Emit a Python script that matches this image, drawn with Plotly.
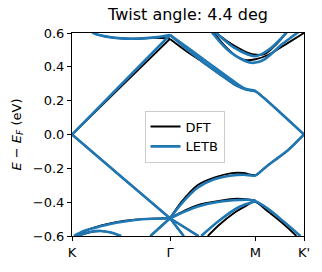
import plotly.graph_objects as go

# High-symmetry points (path coordinate)
K_PT, G_PT, M_PT, KP_PT = 0.0, 1.0, 1.872, 2.367
tick_labels = ["K", "Γ", "M", "K'"]
y_ticks = [-0.6, -0.4, -0.2, 0.0, 0.2, 0.4, 0.6]
y_tick_text = ["−0.6", "−0.4", "−0.2", "0.0", "0.2", "0.4", "0.6"]

# ---------------- DFT bands (black) ----------------
dft_up_kg_k = [0.0, 0.5, 1.0]
dft_up_kg_e = [0.0, 0.283, 0.565]
dft_up_gk_k = [1.0, 1.15, 1.34, 1.5, 1.675, 1.78, 1.872, 1.95, 2.367]
dft_up_gk_e = [0.565, 0.50, 0.425, 0.36, 0.29, 0.266, 0.255, 0.22, 0.0]
dft_u2_k = [0.12, 0.22, 0.4, 0.62, 0.85, 1.0]
dft_u2_e = [0.66, 0.60, 0.574, 0.566, 0.572, 0.568]
dft_u3_k = [1.45, 1.6, 1.75, 1.86, 1.97, 2.08, 2.2]
dft_u3_e = [0.61, 0.545, 0.495, 0.473, 0.476, 0.53, 0.61]
dft_u4_k = [1.42, 1.55, 1.67, 1.75, 1.872, 2.0, 2.2, 2.367]
dft_u4_e = [0.62, 0.53, 0.465, 0.442, 0.445, 0.47, 0.54, 0.6]
dft_dn_kg_k = [0.0, 0.5, 1.0]
dft_dn_kg_e = [0.0, -0.248, -0.495]
dft_l1_k = [1.0, 1.115, 1.28, 1.45, 1.63, 1.75, 1.872, 1.95, 2.05, 2.2, 2.367]
dft_l1_e = [-0.495, -0.40, -0.30, -0.255, -0.228, -0.228, -0.24, -0.205, -0.16, -0.095, 0.0]
dft_l2_k = [1.0, 1.15, 1.284, 1.5, 1.68, 1.81, 1.872]
dft_l2_e = [-0.495, -0.45, -0.417, -0.393, -0.38, -0.385, -0.39]
dft_l3_k = [1.386, 1.5, 1.65, 1.78, 1.862, 2.0, 2.15, 2.29]
dft_l3_e = [-0.6, -0.535, -0.465, -0.42, -0.397, -0.455, -0.525, -0.6]
dft_arca_k = [0.05, 0.15, 0.3, 0.45, 0.64, 0.82, 1.0]
dft_arca_e = [-0.6, -0.566, -0.538, -0.518, -0.503, -0.497, -0.495]
dft_arcb_k = [0.06, 0.18, 0.295, 0.4, 0.5]
dft_arcb_e = [-0.6, -0.578, -0.571, -0.58, -0.6]
dft_dl_k = [0.8, 1.0]
dft_dl_e = [-0.6, -0.495]
dft_dr1_k = [1.0, 1.14]
dft_dr1_e = [-0.495, -0.6]
dft_dr2_k = [1.0, 1.29]
dft_dr2_e = [-0.495, -0.6]

# ---------------- LETB bands (blue) ----------------
letb_up_kg_k = [0.0, 0.5, 1.0]
letb_up_kg_e = [0.0, 0.294, 0.588]
letb_up_gk_k = [1.0, 1.15, 1.34, 1.5, 1.675, 1.78, 1.872, 1.95, 2.367]
letb_up_gk_e = [0.588, 0.515, 0.428, 0.36, 0.29, 0.265, 0.255, 0.22, 0.0]
letb_u2_k = [0.12, 0.22, 0.4, 0.62, 0.85, 1.0]
letb_u2_e = [0.66, 0.60, 0.574, 0.566, 0.574, 0.588]
letb_u2b_k = [1.0, 1.2, 1.4, 1.6, 1.75, 1.872]
letb_u2b_e = [0.588, 0.505, 0.42, 0.335, 0.275, 0.258]
letb_u3_k = [1.454, 1.55, 1.65, 1.794, 1.862, 1.95, 2.033, 2.12, 2.2]
letb_u3_e = [0.61, 0.56, 0.515, 0.473, 0.463, 0.48, 0.512, 0.56, 0.61]
letb_u4_k = [1.42, 1.52, 1.624, 1.73, 1.829, 1.9, 1.964, 2.05, 2.135, 2.25, 2.367]
letb_u4_e = [0.61, 0.54, 0.483, 0.445, 0.424, 0.428, 0.444, 0.485, 0.53, 0.58, 0.63]
letb_dn_kg_k = [0.0, 0.5, 1.0]
letb_dn_kg_e = [0.0, -0.248, -0.495]
letb_l1_k = [1.0, 1.115, 1.28, 1.45, 1.63, 1.75, 1.872, 1.95, 2.05, 2.2, 2.367]
letb_l1_e = [-0.495, -0.41, -0.315, -0.265, -0.242, -0.238, -0.242, -0.205, -0.16, -0.095, 0.0]
letb_l2_k = [1.0, 1.15, 1.284, 1.5, 1.7, 1.8, 1.872, 2.0, 2.15, 2.33]
letb_l2_e = [-0.495, -0.455, -0.425, -0.398, -0.387, -0.386, -0.395, -0.44, -0.51, -0.6]
letb_l3_k = [1.318, 1.5, 1.7, 1.872]
letb_l3_e = [-0.6, -0.51, -0.43, -0.395]
letb_arca_k = [0.02, 0.12, 0.29, 0.45, 0.64, 0.82, 1.0]
letb_arca_e = [-0.6, -0.57, -0.543, -0.522, -0.505, -0.498, -0.495]
letb_arcb_k = [0.056, 0.17, 0.294, 0.4, 0.5]
letb_arcb_e = [-0.6, -0.578, -0.57, -0.579, -0.6]
letb_dl_k = [0.8, 1.0]
letb_dl_e = [-0.6, -0.495]
letb_dr1_k = [1.0, 1.14]
letb_dr1_e = [-0.495, -0.6]
letb_dr2_k = [1.0, 1.29]
letb_dr2_e = [-0.495, -0.6]

dft_bands = [
    (dft_up_kg_k, dft_up_kg_e), (dft_up_gk_k, dft_up_gk_e), (dft_u2_k, dft_u2_e),
    (dft_u3_k, dft_u3_e), (dft_u4_k, dft_u4_e), (dft_dn_kg_k, dft_dn_kg_e),
    (dft_l1_k, dft_l1_e), (dft_l2_k, dft_l2_e), (dft_l3_k, dft_l3_e),
    (dft_arca_k, dft_arca_e), (dft_arcb_k, dft_arcb_e), (dft_dl_k, dft_dl_e),
    (dft_dr1_k, dft_dr1_e), (dft_dr2_k, dft_dr2_e),
]
letb_bands = [
    (letb_up_kg_k, letb_up_kg_e), (letb_up_gk_k, letb_up_gk_e), (letb_u2_k, letb_u2_e),
    (letb_u2b_k, letb_u2b_e), (letb_u3_k, letb_u3_e), (letb_u4_k, letb_u4_e),
    (letb_dn_kg_k, letb_dn_kg_e), (letb_l1_k, letb_l1_e), (letb_l2_k, letb_l2_e),
    (letb_l3_k, letb_l3_e), (letb_arca_k, letb_arca_e), (letb_arcb_k, letb_arcb_e),
    (letb_dl_k, letb_dl_e), (letb_dr1_k, letb_dr1_e), (letb_dr2_k, letb_dr2_e),
]

fig = go.Figure()
for i, (k, e) in enumerate(dft_bands):
    fig.add_trace(go.Scatter(
        x=k, y=e, mode="lines", name="DFT", legendgroup="DFT", showlegend=(i == 0),
        line=dict(color="black", width=1.9, shape="spline", smoothing=0.8),
        hoverinfo="skip",
    ))
for i, (k, e) in enumerate(letb_bands):
    fig.add_trace(go.Scatter(
        x=k, y=e, mode="lines", name="LETB", legendgroup="LETB", showlegend=(i == 0),
        line=dict(color="#1f77b4", width=2.6, shape="spline", smoothing=0.8),
        hoverinfo="skip",
    ))

font_family = "DejaVu Sans"
fig.update_layout(
    width=322, height=272,
    margin=dict(l=72, r=17, t=33, b=34),
    paper_bgcolor="white", plot_bgcolor="white",
    font=dict(family=font_family, size=13, color="black"),
    title=dict(text="Twist angle: 4.4 deg", x=0.5, xref="paper", xanchor="center",
               y=1 - 14 / 272, yref="container", yanchor="middle",
               font=dict(family=font_family, size=16, color="black")),
    showlegend=True,
    legend=dict(x=0.485, y=0.49, xanchor="center", yanchor="middle",
                bgcolor="rgba(255,255,255,0.85)", bordercolor="#cccccc", borderwidth=1,
                font=dict(family=font_family, size=13, color="black"),
                itemwidth=30, tracegroupgap=0),
)
fig.update_xaxes(
    range=[K_PT, KP_PT], tickvals=[K_PT, G_PT, M_PT, KP_PT], ticktext=tick_labels,
    showline=True, linecolor="black", linewidth=1, mirror=True,
    ticks="outside", ticklen=4, tickcolor="black", showgrid=False, zeroline=False,
    tickfont=dict(family=font_family, size=13, color="black"),
)
fig.update_yaxes(
    range=[-0.6, 0.6], tickvals=y_ticks, ticktext=y_tick_text,
    showline=True, linecolor="black", linewidth=1, mirror=True,
    ticks="outside", ticklen=4, tickcolor="black", showgrid=False, zeroline=False,
    tickfont=dict(family=font_family, size=13, color="black"),
    title=dict(text="<span style='color:#000000'><i>E</i> − <i>E</i><sub><i>F</i></sub> (eV)</span>",
               standoff=8,
               font=dict(family=font_family, size=13, color="#000000")),
)
fig.write_html("out.html", config={"displayModeBar": False},
               post_script="document.body.style.margin='0px';")
